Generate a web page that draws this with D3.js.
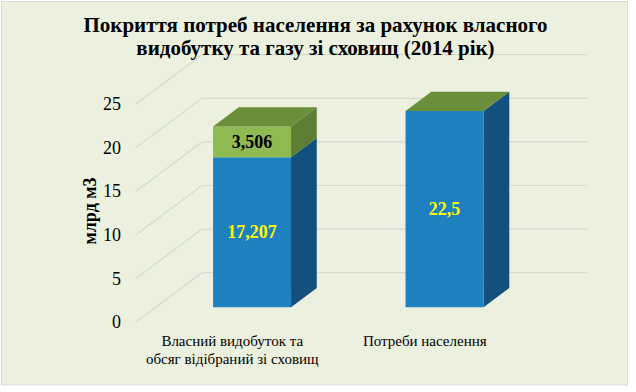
<!DOCTYPE html>
<html>
<head>
<meta charset="utf-8">
<script src="https://cdn.jsdelivr.net/npm/d3@7"></script>
<style>
  html, body { margin: 0; padding: 0; background: #ffffff; }
  svg { display: block; }
  svg text { font-family: "Liberation Serif", "Times New Roman", serif !important; }
</style>
</head>
<body>
<svg id="chart" width="636" height="392"></svg>
<script>
// ---- data ----
const titleLines = ["Покриття потреб населення за рахунок власного", "видобутку та газу зі сховищ (2014 рік)"];
const categories = ["Власний видобуток та\nобсяг відібраний зі сховищ", "Потреби населення"];
const seriesNames = ["Власний видобуток", "Газ зі сховищ"];
const ownProduction = [17.207, 22.5];
const storageGas = [3.506, 0];
const tickValues = [0, 5, 10, 15, 20, 25];
const yAxisTitle = "млрд м3";

// ---- layout ----
const svg = d3.select("#chart");
const bg = "#EBF1DE";
const gridColor = "#D6D9D0";
const DX = 66, DY = 49.3;          // full depth offset of the walls
const zFront = 0.3, zBack = 0.69;  // bar depth range

svg.append("rect").attr("x", 1.5).attr("y", 1.5).attr("width", 626).attr("height", 383.5)
  .attr("fill", bg).attr("stroke", "#D9D9D9").attr("stroke-width", 1);

const x = d3.scaleBand().domain(categories).range([136, 521])
  .paddingInner(0.595).paddingOuter(0.2975);
const y = d3.scaleLinear().domain([0, 25]).range([322, 322 - 25 * 8.72]);

const P = (xf, v, z) => [xf + z * DX, y(v) - z * DY];
const poly = pts => pts.map(p => p.join(",")).join(" ");

// gridlines: side wall diagonal + back wall horizontal
const grid = svg.append("g");
tickValues.forEach(t => {
  grid.append("polyline")
    .attr("points", poly([P(136, t, 0), P(136, t, 1), P(521, t, 1)]))
    .attr("fill", "none").attr("stroke", gridColor).attr("stroke-width", 1.2);
});

// y axis labels via d3 axis
const axisG = svg.append("g").attr("transform", "translate(124,0)")
  .call(d3.axisLeft(y).tickValues(tickValues).tickSize(0).tickPadding(3).tickFormat(d3.format("d")));
axisG.attr("font-family", null).attr("font-size", null);
axisG.select(".domain").remove();
axisG.selectAll("text").style("font-size", "18px").attr("fill", "#000");

// y axis title
svg.append("text").attr("transform", "translate(90,211) rotate(-90)")
  .attr("text-anchor", "middle").attr("dominant-baseline", "central")
  .style("font-size", "18px").attr("font-weight", "bold").text(yAxisTitle);

// stacked 3D bars
const series = [ownProduction, storageGas];
const frontColors = ["#1F80C0", "#8FBA52"];
const sideColors = ["#13507D", "#5D7E33"];
const topColors = ["#1A6AA0", "#6B8E3B"];
const labelColors = ["#FFFF00", "#000000"];
const fmt = v => String(v).replace(".", ",");

const bars = svg.append("g");
categories.forEach((cat, i) => {
  const x0 = x(cat), x1 = x(cat) + x.bandwidth();
  let base = 0;
  const segs = [];
  series.forEach((s, k) => {
    segs.push({ k, v0: base, v1: base + s[i], val: s[i] });
    base += s[i];
  });
  segs.forEach(sg => {
    if (sg.val <= 0) return;
    bars.append("polygon").attr("points", poly([P(x1, sg.v0, zFront), P(x1, sg.v0, zBack), P(x1, sg.v1, zBack), P(x1, sg.v1, zFront)]))
      .attr("fill", sideColors[sg.k]);
    bars.append("polygon").attr("points", poly([P(x0, sg.v0, zFront), P(x1, sg.v0, zFront), P(x1, sg.v1, zFront), P(x0, sg.v1, zFront)]))
      .attr("fill", frontColors[sg.k]);
  });
  const last = series.length - 1;
  bars.append("polygon").attr("points", poly([P(x0, base, zFront), P(x1, base, zFront), P(x1, base, zBack), P(x0, base, zBack)]))
    .attr("fill", topColors[last]);
  segs.forEach(sg => {
    if (sg.val <= 0) return;
    const c = P((x0 + x1) / 2, (sg.v0 + sg.v1) / 2, zFront);
    bars.append("text").attr("x", c[0]).attr("y", c[1])
      .attr("text-anchor", "middle").attr("dominant-baseline", "central")
      .style("font-size", "18px").attr("font-weight", "bold").attr("fill", labelColors[sg.k])
      .text(fmt(sg.val));
  });
});

// category labels
categories.forEach(cat => {
  const cx = x(cat) + x.bandwidth() / 2;
  const t = svg.append("text").attr("text-anchor", "middle").style("font-size", "15px").attr("fill", "#000");
  cat.split("\n").forEach((line, j) => {
    t.append("tspan").attr("x", cx).attr("y", 346 + j * 18).text(line);
  });
});

// title
const title = svg.append("text").attr("text-anchor", "middle").style("font-size", "21px").attr("font-weight", "bold").attr("fill", "#000");
titleLines.forEach((line, j) => {
  title.append("tspan").attr("x", 315.5).attr("y", 32 + j * 23).text(line);
});
</script>
</body>
</html>
